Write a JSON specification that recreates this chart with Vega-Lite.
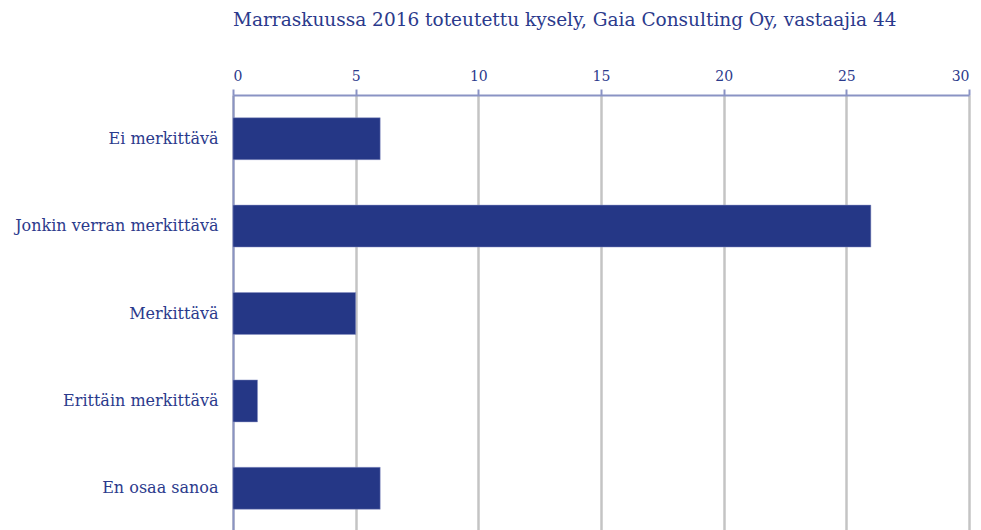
{
  "$schema": "https://vega.github.io/schema/vega-lite/v6.json",
  "width": 736,
  "height": 437,
  "autosize": "none",
  "padding": {"left": 233, "top": 95, "right": 12, "bottom": 0},
  "background": "white",
  "title": {
    "text": "Marraskuussa 2016 toteutettu kysely, Gaia Consulting Oy, vastaajia 44",
    "font": "DejaVu Serif",
    "fontSize": 18.5,
    "fontWeight": "normal",
    "color": "#2b3a8c",
    "anchor": "start",
    "frame": "group",
    "offset": 40
  },
  "data": {
    "values": [
      {"vastaus": "Ei merkittävä", "lkm": 6},
      {"vastaus": "Jonkin verran merkittävä", "lkm": 26},
      {"vastaus": "Merkittävä", "lkm": 5},
      {"vastaus": "Erittäin merkittävä", "lkm": 1},
      {"vastaus": "En osaa sanoa", "lkm": 6}
    ]
  },
  "config": {"view": {"stroke": null}},
  "mark": {"type": "bar", "color": "#253786", "stroke": "#8a93c4", "strokeWidth": 0.5},
  "encoding": {
    "y": {
      "field": "vastaus",
      "type": "nominal",
      "sort": null,
      "title": null,
      "scale": {"paddingInner": 0.52, "paddingOuter": 0.26},
      "axis": {
        "domainColor": "#8a93c4",
        "domainWidth": 2,
        "ticks": false,
        "labelPadding": 15,
        "labelLimit": 400,
        "labelFont": "DejaVu Serif",
        "labelFontSize": 16,
        "labelColor": "#2b3a8c",
        "grid": false
      }
    },
    "x": {
      "field": "lkm",
      "type": "quantitative",
      "title": null,
      "scale": {"domain": [0, 30], "nice": false},
      "axis": {
        "orient": "top",
        "values": [0, 5, 10, 15, 20, 25, 30],
        "domainColor": "#8a93c4",
        "domainWidth": 2,
        "tickColor": "#8a93c4",
        "tickWidth": 2,
        "tickSize": 6,
        "labelFont": "DejaVu Serif",
        "labelFontSize": 14,
        "labelColor": "#2b3a8c",
        "labelPadding": 6,
        "gridColor": "#c4c4c4",
        "gridWidth": 2.5
      }
    }
  }
}
